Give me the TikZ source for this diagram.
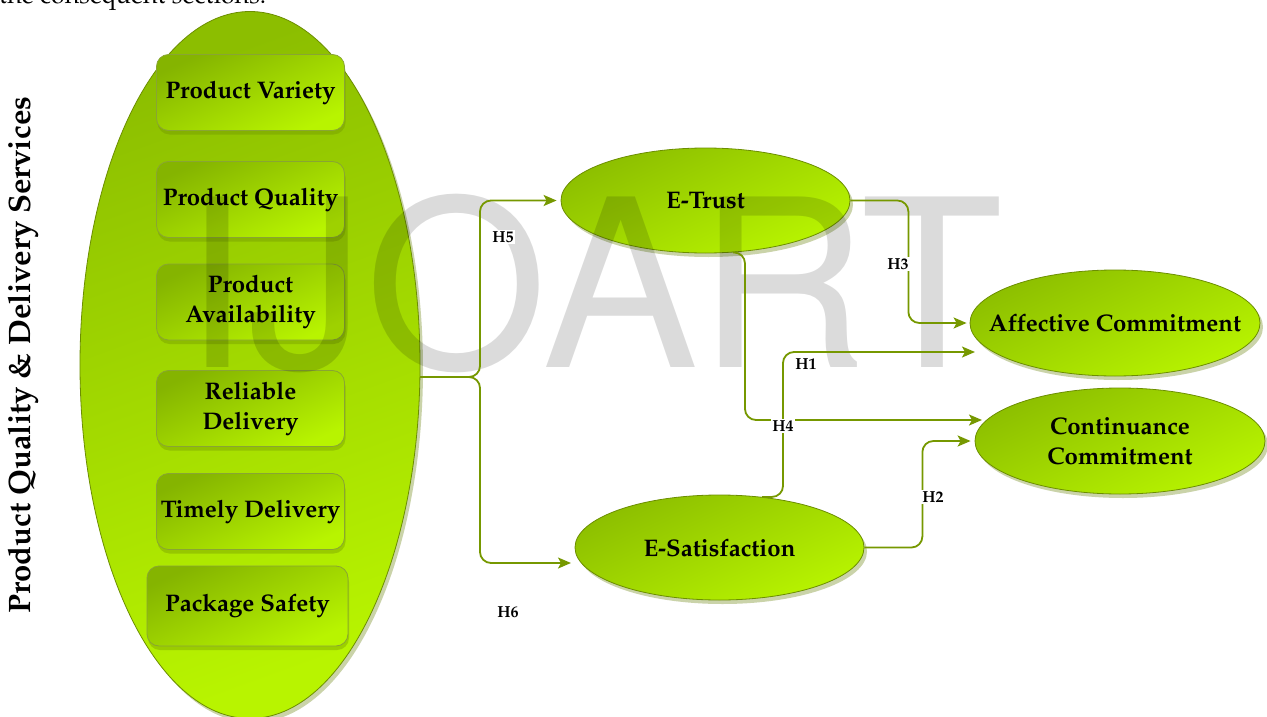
\documentclass[tikz,border=0pt]{standalone}
\usepackage[T1]{fontenc}
\usepackage{mathpazo}
\usetikzlibrary{shapes.geometric,arrows.meta,shadows}
\definecolor{gdark}{RGB}{140,190,0}
\definecolor{glight}{RGB}{184,244,0}
\definecolor{gline}{RGB}{118,152,0}
\definecolor{gedge}{RGB}{108,142,0}
\definecolor{gshadow}{RGB}{196,206,160}
\begin{document}
\begin{tikzpicture}[x=1pt,y=-1pt,
  ell/.style={ellipse, draw=gedge, line width=0.8pt, top color=gdark, bottom color=glight,
    shading angle=25, drop shadow={shadow xshift=3pt, shadow yshift=-4pt, fill=gshadow, opacity=0.9},
    font=\fontsize{24}{30}\selectfont\bfseries, align=center, inner ysep=0pt, inner xsep=-30pt,
    minimum width=289pt, minimum height=105pt},
  bigell/.style={ellipse, draw=gedge, line width=0.8pt, top color=gdark, bottom color=glight,
    shading angle=20, drop shadow={shadow xshift=3pt, shadow yshift=-4pt, fill=gshadow, opacity=0.9},
    inner sep=0pt, minimum width=340pt, minimum height=707pt},
  box/.style={rectangle, rounded corners=12pt, draw=gedge!80, line width=0.8pt,
    top color=gdark!95!black, bottom color=glight, shading angle=25,
    drop shadow={shadow xshift=1pt, shadow yshift=-4pt, fill=gedge, opacity=0.35},
    minimum width=188pt, minimum height=76pt, inner sep=0pt,
    font=\fontsize{24}{30}\selectfont\bfseries, align=center},
  conn/.style={draw=gline, line width=1.8pt, rounded corners=11pt,
    -{Stealth[length=13pt,width=11pt,inset=3pt]}},
  lab/.style={fill=white, inner sep=1.5pt, font=\fontsize{16}{16}\selectfont\bfseries},
  wm/.style={anchor=base west, inner sep=0pt, text=black, text opacity=0.14,
    font=\fontfamily{phv}\fontsize{234}{234}\selectfont}
]
\useasboundingbox (0,0) rectangle (1267,717);

% top line of running text (cut off)
\node[anchor=base west, inner sep=0pt, font=\fontsize{25}{25}\selectfont] (toptext) at (-1,4) {the consequent sections.};

% big ellipse and its boxes
\node[bigell] (big) at (250,365) {};
\node[box] (pv) at (250.5,92.5) {Product Variety};
\node[box] (pq) at (250.5,199.5) {Product Quality};
\node[box] (pa) at (250.5,302) {Product\\Availability};
\node[box] (rd) at (250.5,408.5) {Reliable\\Delivery};
\node[box] (td) at (250.5,511.5) {Timely Delivery};
\node[box, minimum width=201pt, minimum height=80pt] (ps) at (247.5,606) {Package Safety};

% side label
\node[rotate=90, inner sep=0pt, font=\fontsize{31}{31}\selectfont\bfseries] (side) at (23,355) {Product Quality \& Delivery Services};

% construct ellipses
\node[ell] (trust) at (705.5,200.5) {E-Trust};
\node[ell] (esat) at (719.5,547.5) {E-Satisfaction};
\node[ell, minimum width=290pt, minimum height=106pt] (aff) at (1115,323) {Affective Commitment};
\node[ell, minimum width=290pt, minimum height=106pt] (cont) at (1120,441) {Continuance\\Commitment};

% watermark
\node[wm] (wmark) at (183,367) {IJOART};

% connectors
\coordinate (src) at (420,377);
\coordinate (fork) at (480,377);
\coordinate (sat6) at (571,563);
\coordinate (c4) at (982,420);
\coordinate (a1) at (975,352);

\draw[conn, shorten >=4pt] (src) -- (fork) |- (trust.west);
\draw[conn] (src) -- (fork) |- (sat6);
\draw[conn, shorten >=3pt] (trust.east) -- ++(58,0) |- (aff.west);
\draw[conn] (trust.-62) -| (745,420) -- (c4);
\draw[conn] (esat.50) -| (783,352) -- (a1);
\draw[conn, shorten >=4pt] (esat.east) -- ++(58,0) |- (cont.west);

% labels
\node[lab] (h5) at (503,237) {H5};
\node[lab] (h3) at (898,264) {H3};
\node[lab] (h1) at (806,364) {H1};
\node[lab] (h4) at (783,426) {H4};
\node[lab] (h2) at (933,497) {H2};
\node[lab] (h6) at (508,612) {H6};
\end{tikzpicture}
\end{document}
